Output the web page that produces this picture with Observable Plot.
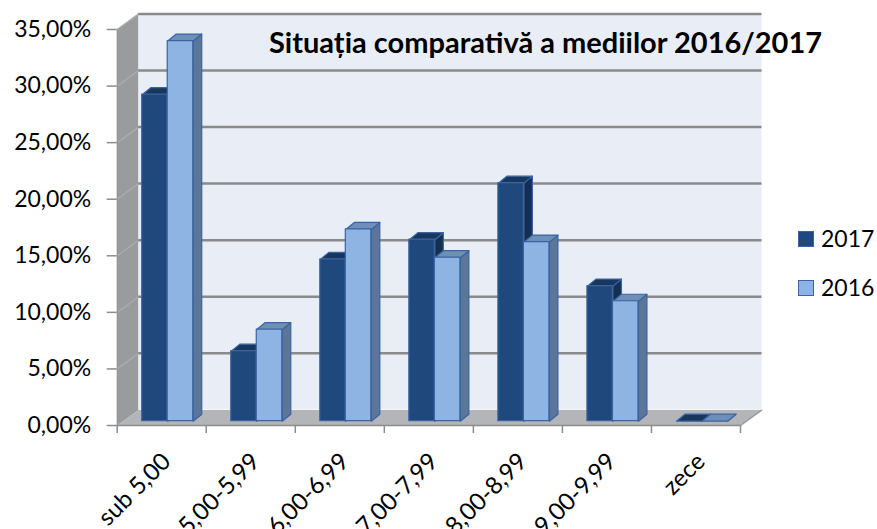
<!DOCTYPE html>
<html>
<head>
<meta charset="utf-8">
<script src="https://cdn.jsdelivr.net/npm/d3@7"></script>
<script src="https://cdn.jsdelivr.net/npm/@observablehq/plot@0.6"></script>
<style>
  html, body { margin: 0; padding: 0; background: #fff; }
  #wrap { position: relative; width: 877px; height: 529px; overflow: hidden; font-family: Lato, "Noto Sans", sans-serif; }
  #wrap svg { position: absolute; left: 0; top: 0; }
  #title { position: absolute; left: 269px; top: 27px; font-weight: 700; font-size: 29px; color: #000; white-space: nowrap; line-height: 1; }
  .leg { position: absolute; left: 798px; font-size: 23px; line-height: 1; display: flex; align-items: center; }
  .leg span.sw { display: inline-block; width: 14px; height: 14px; margin-right: 7px; border: 1px solid #3b64a0; }
</style>
</head>
<body>
<div id="wrap">
  <div id="title">Situația comparativă a mediilor 2016/2017</div>
  <div class="leg" style="top:227px"><span class="sw" style="background:#1f497d"></span>2017</div>
  <div class="leg" style="top:276px"><span class="sw" style="background:#8db4e2"></span>2016</div>
</div>
<script>
// ---- data ----
const categories = ["sub 5,00", "5,00-5,99", "6,00-6,99", "7,00-7,99", "8,00-8,99", "9,00-9,99", "zece"];
const series = ["2017", "2016"];
const values2017 = [28.86, 6.19, 14.30, 16.04, 21.04, 11.94, 0];
const values2016 = [33.60, 8.10, 16.95, 14.45, 15.83, 10.60, 0];
const yTicks = [0, 5, 10, 15, 20, 25, 30, 35];
const yTickLabels = ["0,00%", "5,00%", "10,00%", "15,00%", "20,00%", "25,00%", "30,00%", "35,00%"];

// ---- layout ----
const W = 877, H = 529;
const mL = 116.7, mR = 137, mT = 29, mB = 104;
const N = categories.length;
const YMAX = 35;
const plotW = W - mL - mR, plotH = H - mT - mB;
const xpp = N / plotW, ypp = YMAX / plotH;       // data units per pixel
const DX = 21.5 * xpp, DY = 15.6 * ypp;          // wall depth (data units)
const BDX = 8.5 * xpp, BDY = 7 * ypp;            // bar depth (data units)
const BOX = 6, BOY = -4.3;                       // bar depth position (px)
const GAP = 0.2135, BW = 0.2865;

const colors = {
  "2017": {front: "#1f497d", top: "#18375e", side: "#142f52"},
  "2016": {front: "#8db4e2", top: "#6e8fba", side: "#5b7699"}
};
const edge = "#3b64a0";

// walls
const sideWall = [{x: 0, y: 0}, {x: 0, y: YMAX}, {x: DX, y: YMAX + DY}, {x: DX, y: DY}, {x: 0, y: 0}];
const floor = [{x: 0, y: 0}, {x: N, y: 0}, {x: N + DX, y: DY}, {x: DX, y: DY}, {x: 0, y: 0}];
const backWall = [{x1: DX, x2: N + DX, y1: DY, y2: YMAX + DY}];

function barMarks(name, values, k) {
  const c = colors[name];
  const fronts = values.map((v, i) => ({x1: i + GAP + k * BW, x2: i + GAP + (k + 1) * BW, v}));
  const tops = [], sides = [];
  fronts.forEach((b, i) => {
    [[b.x1, b.v], [b.x2, b.v], [b.x2 + BDX, b.v + BDY], [b.x1 + BDX, b.v + BDY], [b.x1, b.v]]
      .forEach(([x, y]) => tops.push({id: i, x, y}));
    [[b.x2, 0], [b.x2 + BDX, BDY], [b.x2 + BDX, b.v + BDY], [b.x2, b.v], [b.x2, 0]]
      .forEach(([x, y]) => sides.push({id: i, x, y}));
  });
  const common = {dx: BOX, dy: BOY, stroke: edge, strokeWidth: 1.2, strokeLinejoin: "round"};
  return [
    Plot.line(sides, {x: "x", y: "y", z: "id", fill: c.side, ...common}),
    Plot.line(tops, {x: "x", y: "y", z: "id", fill: c.top, ...common}),
    Plot.rect(fronts, {x1: "x1", x2: "x2", y1: () => 0, y2: "v", fill: c.front, ...common})
  ];
}

const chart = Plot.plot({
  width: W, height: H,
  marginLeft: mL, marginRight: mR, marginTop: mT, marginBottom: mB,
  x: {type: "linear", domain: [0, N], axis: null},
  y: {type: "linear", domain: [0, YMAX], axis: null},
  style: {fontFamily: "Lato, 'Noto Sans', sans-serif", background: "transparent", overflow: "visible"},
  marks: [
    Plot.line(sideWall, {x: "x", y: "y", fill: "#9a9b9d", stroke: "none"}),
    Plot.line(floor, {x: "x", y: "y", fill: "#b3b5b8", stroke: "none"}),
    Plot.rect(backWall, {x1: "x1", x2: "x2", y1: "y1", y2: "y2", fill: "#e9edf6"}),
    Plot.link(yTicks.slice(1), {x1: () => 0, y1: d => d, x2: () => DX, y2: d => d + DY, stroke: "#a9aaac", strokeWidth: 1.5}),
    Plot.ruleY(yTicks.slice(1), {x1: () => DX, x2: () => N + DX, y: d => d + DY, stroke: "#8a8a8a", strokeWidth: 2.5}),
    Plot.link([0], {x1: () => N, y1: () => 0, x2: () => N + DX, y2: () => DY, stroke: "#9a9a9a", strokeWidth: 1.5}),
    Plot.ruleY([0], {x1: () => 0, x2: () => N, stroke: "#8c8c8c", strokeWidth: 1.5}),
    Plot.ruleX([0], {y1: () => 0, y2: () => YMAX, stroke: "#8c8c8c", strokeWidth: 1}),
    ...barMarks("2017", values2017, 0),
    ...barMarks("2016", values2016, 1),
    Plot.axisY({ticks: yTicks, tickFormat: (d) => yTickLabels[yTicks.indexOf(d)], tickSize: 10, tickPadding: 16,
      fontSize: 23, stroke: "#8c8c8c", fill: "#000", strokeWidth: 1.5}),
    Plot.axisX({ticks: d3.range(N + 1), tickFormat: () => "", tickSize: 8, stroke: "#8c8c8c", strokeWidth: 1.5}),
    Plot.text(categories, {x: (d, i) => i + 0.5, y: () => 0, text: d => d, rotate: -45, textAnchor: "end",
      dx: 5, dy: 32, fontSize: 24, fill: "#000"})
  ]
});
document.getElementById("wrap").prepend(chart);
</script>
</body>
</html>
